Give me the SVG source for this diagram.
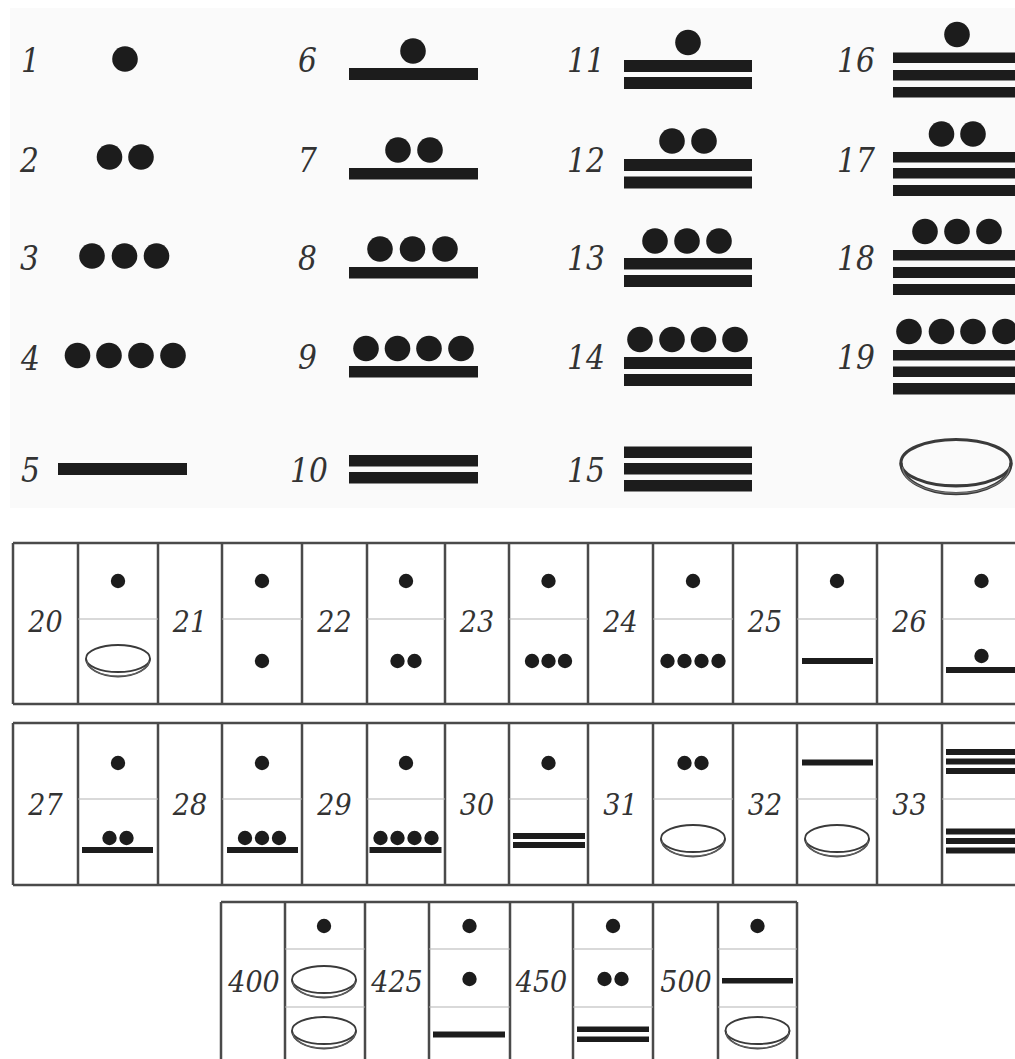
<svg xmlns="http://www.w3.org/2000/svg" xmlns:xlink="http://www.w3.org/1999/xlink" width="1015" height="1059" viewBox="0 0 1015 1059">
<style>
.lbl{font-family:"DejaVu Serif Condensed","DejaVu Serif",serif;font-style:italic;font-stretch:condensed;fill:#333}
.big{font-size:33px}
.sm{font-size:30px;text-anchor:middle}
.ink{fill:#1c1c1c}
.grid{stroke:#4a4a4a;stroke-width:2.5;fill:none}
.dv{stroke:#b4b4b4;stroke-width:1.2;fill:none}
</style>
<defs>
<g id="shell" fill="none" stroke="#3a3a3a" stroke-width="1.8">
<ellipse cx="0" cy="-2.5" rx="32" ry="13.5"/>
<path d="M-32,-2.5 A32,18 0 0 0 32,-2.5"/>
<path d="M-31,0 A31,15.2 0 0 0 31,0" stroke-width="0.7" stroke="#777"/>
</g>
</defs>
<rect x="0" y="0" width="1015" height="1059" fill="#ffffff"/>
<rect x="10" y="8" width="1005" height="500" fill="#fafafa"/>

<g id="n1"><text class="lbl big" x="21" y="72">1</text><circle class="ink" cx="125" cy="59" r="12.8"/></g>
<g id="n2"><text class="lbl big" x="20" y="172">2</text><circle class="ink" cx="109.5" cy="157" r="12.8"/><circle class="ink" cx="141" cy="157" r="12.8"/></g>
<g id="n3"><text class="lbl big" x="20" y="270">3</text><circle class="ink" cx="92" cy="256" r="12.8"/><circle class="ink" cx="124.5" cy="256" r="12.8"/><circle class="ink" cx="156.5" cy="256" r="12.8"/></g>
<g id="n4"><text class="lbl big" x="21" y="370">4</text><circle class="ink" cx="77.5" cy="355.5" r="12.8"/><circle class="ink" cx="109" cy="355.5" r="12.8"/><circle class="ink" cx="141" cy="355.5" r="12.8"/><circle class="ink" cx="173" cy="355.5" r="12.8"/></g>
<g id="n5"><text class="lbl big" x="21" y="482">5</text><rect class="ink" x="58" y="463" width="129" height="12"/></g>

<g id="n6"><text class="lbl big" x="298" y="72">6</text><circle class="ink" cx="413" cy="51" r="12.8"/><rect class="ink" x="349" y="68" width="129" height="12"/></g>
<g id="n7"><text class="lbl big" x="298" y="172">7</text><circle class="ink" cx="398" cy="150" r="12.8"/><circle class="ink" cx="430" cy="150" r="12.8"/><rect class="ink" x="349" y="168" width="129" height="11.5"/></g>
<g id="n8"><text class="lbl big" x="298" y="270">8</text><circle class="ink" cx="380" cy="249" r="12.8"/><circle class="ink" cx="412.5" cy="249" r="12.8"/><circle class="ink" cx="445" cy="249" r="12.8"/><rect class="ink" x="349" y="267" width="129" height="11.5"/></g>
<g id="n9"><text class="lbl big" x="298" y="369">9</text><circle class="ink" cx="366" cy="348.5" r="12.8"/><circle class="ink" cx="397.5" cy="348.5" r="12.8"/><circle class="ink" cx="429" cy="348.5" r="12.8"/><circle class="ink" cx="461" cy="348.5" r="12.8"/><rect class="ink" x="349" y="366" width="129" height="11.5"/></g>
<g id="n10"><text class="lbl big" x="290" y="482">10</text><rect class="ink" x="349" y="455" width="129" height="11.5"/><rect class="ink" x="349" y="472" width="129" height="11.5"/></g>

<g id="n11"><text class="lbl big" x="567" y="72">11</text><circle class="ink" cx="688" cy="42.5" r="12.8"/><rect class="ink" x="624" y="60" width="128" height="12"/><rect class="ink" x="624" y="77" width="128" height="12"/></g>
<g id="n12"><text class="lbl big" x="567" y="172">12</text><circle class="ink" cx="672" cy="141" r="12.8"/><circle class="ink" cx="704" cy="141" r="12.8"/><rect class="ink" x="624" y="159" width="128" height="12"/><rect class="ink" x="624" y="176.5" width="128" height="12"/></g>
<g id="n13"><text class="lbl big" x="567" y="270">13</text><circle class="ink" cx="655" cy="241" r="12.8"/><circle class="ink" cx="687" cy="241" r="12.8"/><circle class="ink" cx="719" cy="241" r="12.8"/><rect class="ink" x="624" y="258" width="128" height="11.5"/><rect class="ink" x="624" y="275" width="128" height="12"/></g>
<g id="n14"><text class="lbl big" x="567" y="369">14</text><circle class="ink" cx="640" cy="339.5" r="12.8"/><circle class="ink" cx="672" cy="339.5" r="12.8"/><circle class="ink" cx="703.5" cy="339.5" r="12.8"/><circle class="ink" cx="735" cy="339.5" r="12.8"/><rect class="ink" x="624" y="357" width="128" height="12"/><rect class="ink" x="624" y="374" width="128" height="12"/></g>
<g id="n15"><text class="lbl big" x="567" y="482">15</text><rect class="ink" x="624" y="446.5" width="128" height="11.5"/><rect class="ink" x="624" y="463" width="128" height="11.5"/><rect class="ink" x="624" y="480" width="128" height="11.5"/></g>

<g id="n16"><text class="lbl big" x="837" y="72">16</text><circle class="ink" cx="957" cy="34.5" r="12.8"/><rect class="ink" x="893" y="52.5" width="128" height="10.5"/><rect class="ink" x="893" y="70" width="128" height="10.5"/><rect class="ink" x="893" y="87" width="128" height="10.5"/></g>
<g id="n17"><text class="lbl big" x="837" y="172">17</text><circle class="ink" cx="941.5" cy="134" r="12.8"/><circle class="ink" cx="973" cy="134" r="12.8"/><rect class="ink" x="893" y="152" width="128" height="10.5"/><rect class="ink" x="893" y="168" width="128" height="10.5"/><rect class="ink" x="893" y="185" width="128" height="11"/></g>
<g id="n18"><text class="lbl big" x="837" y="270">18</text><circle class="ink" cx="925" cy="231.5" r="12.8"/><circle class="ink" cx="957" cy="231.5" r="12.8"/><circle class="ink" cx="989" cy="231.5" r="12.8"/><rect class="ink" x="893" y="250" width="128" height="10.5"/><rect class="ink" x="893" y="267" width="128" height="11"/><rect class="ink" x="893" y="284" width="128" height="11"/></g>
<g id="n19"><text class="lbl big" x="837" y="369">19</text><circle class="ink" cx="909" cy="331.5" r="12.8"/><circle class="ink" cx="941.5" cy="331.5" r="12.8"/><circle class="ink" cx="973" cy="331.5" r="12.8"/><circle class="ink" cx="1005" cy="331.5" r="12.8"/><rect class="ink" x="893" y="350" width="128" height="10.5"/><rect class="ink" x="893" y="366.5" width="128" height="10.5"/><rect class="ink" x="893" y="383" width="128" height="11.5"/></g>
<g id="n0"><use xlink:href="#shell" href="#shell" transform="translate(956,467) scale(1.72)"/></g>

<g id="table1-grid">
<path class="grid" d="M13,543 H1016 M13,704 H1016 M13,543 V704 M78,543 V704 M158,543 V704 M222,543 V704 M302,543 V704 M367,543 V704 M445,543 V704 M509,543 V704 M588,543 V704 M653,543 V704 M733,543 V704 M797,543 V704 M877,543 V704 M942,543 V704"/>
<path class="dv" d="M78,619 H158 M222,619 H302 M367,619 H445 M509,619 H588 M653,619 H733 M797,619 H877 M942,619 H1016"/>
</g>
<g id="n20"><text class="lbl sm" x="45.5" y="632">20</text><circle class="ink" cx="118" cy="581" r="7.2"/><use xlink:href="#shell" href="#shell" transform="translate(118,661)"/></g>
<g id="n21"><text class="lbl sm" x="190" y="632">21</text><circle class="ink" cx="262" cy="581" r="7.2"/><circle class="ink" cx="262" cy="661" r="7.2"/></g>
<g id="n22"><text class="lbl sm" x="334.5" y="632">22</text><circle class="ink" cx="406" cy="581" r="7.2"/><circle class="ink" cx="397.5" cy="661" r="7.2"/><circle class="ink" cx="414.5" cy="661" r="7.2"/></g>
<g id="n23"><text class="lbl sm" x="477" y="632">23</text><circle class="ink" cx="548.5" cy="581" r="7.2"/><circle class="ink" cx="532" cy="661" r="7.2"/><circle class="ink" cx="548.5" cy="661" r="7.2"/><circle class="ink" cx="565" cy="661" r="7.2"/></g>
<g id="n24"><text class="lbl sm" x="620.5" y="632">24</text><circle class="ink" cx="693" cy="581" r="7.2"/><circle class="ink" cx="667.5" cy="661" r="7.2"/><circle class="ink" cx="684.5" cy="661" r="7.2"/><circle class="ink" cx="701.5" cy="661" r="7.2"/><circle class="ink" cx="718.5" cy="661" r="7.2"/></g>
<g id="n25"><text class="lbl sm" x="765" y="632">25</text><circle class="ink" cx="837" cy="581" r="7.2"/><rect class="ink" x="802" y="658" width="71" height="6"/></g>
<g id="n26"><text class="lbl sm" x="909.5" y="632">26</text><circle class="ink" cx="981.5" cy="581" r="7.2"/><circle class="ink" cx="981.5" cy="656" r="7.2"/><rect class="ink" x="946" y="667" width="71" height="6"/></g>

<g id="table2-grid">
<path class="grid" d="M13,723 H1016 M13,885 H1016 M13,723 V885 M78,723 V885 M158,723 V885 M222,723 V885 M302,723 V885 M367,723 V885 M445,723 V885 M509,723 V885 M588,723 V885 M653,723 V885 M733,723 V885 M797,723 V885 M877,723 V885 M942,723 V885"/>
<path class="dv" d="M78,799 H158 M222,799 H302 M367,799 H445 M509,799 H588 M653,799 H733 M797,799 H877 M942,799 H1016"/>
</g>
<g id="n27"><text class="lbl sm" x="45.5" y="815">27</text><circle class="ink" cx="118" cy="763" r="7.2"/><circle class="ink" cx="109.5" cy="838" r="7.2"/><circle class="ink" cx="126.5" cy="838" r="7.2"/><rect class="ink" x="82" y="847" width="71" height="6"/></g>
<g id="n28"><text class="lbl sm" x="190" y="815">28</text><circle class="ink" cx="262" cy="763" r="7.2"/><circle class="ink" cx="245" cy="838" r="7.2"/><circle class="ink" cx="262" cy="838" r="7.2"/><circle class="ink" cx="279" cy="838" r="7.2"/><rect class="ink" x="227" y="847" width="71" height="6"/></g>
<g id="n29"><text class="lbl sm" x="334.5" y="815">29</text><circle class="ink" cx="406" cy="763" r="7.2"/><circle class="ink" cx="380.5" cy="838" r="7.2"/><circle class="ink" cx="397.5" cy="838" r="7.2"/><circle class="ink" cx="414.5" cy="838" r="7.2"/><circle class="ink" cx="431.5" cy="838" r="7.2"/><rect class="ink" x="369.5" y="847" width="72" height="6"/></g>
<g id="n30"><text class="lbl sm" x="477" y="815">30</text><circle class="ink" cx="548.5" cy="763" r="7.2"/><rect class="ink" x="513" y="833" width="72" height="6"/><rect class="ink" x="513" y="842" width="72" height="6"/></g>
<g id="n31"><text class="lbl sm" x="620.5" y="815">31</text><circle class="ink" cx="684.5" cy="763" r="7.2"/><circle class="ink" cx="701.5" cy="763" r="7.2"/><use xlink:href="#shell" href="#shell" transform="translate(693,841)"/></g>
<g id="n32"><text class="lbl sm" x="765" y="815">32</text><rect class="ink" x="802" y="759.5" width="71" height="6"/><use xlink:href="#shell" href="#shell" transform="translate(837,841)"/></g>
<g id="n33"><text class="lbl sm" x="909.5" y="815">33</text><rect class="ink" x="946" y="749" width="71" height="6"/><rect class="ink" x="946" y="758.5" width="71" height="6"/><rect class="ink" x="946" y="768" width="71" height="6"/><rect class="ink" x="946" y="828.5" width="71" height="6"/><rect class="ink" x="946" y="838" width="71" height="6"/><rect class="ink" x="946" y="847.5" width="71" height="6"/></g>

<g id="table3-grid">
<path class="grid" d="M221,902 H797 M221,902 V1060 M285,902 V1060 M365,902 V1060 M429,902 V1060 M510,902 V1060 M573,902 V1060 M653,902 V1060 M718,902 V1060 M797,902 V1060"/>
<path class="dv" d="M285,949 H365 M429,949 H510 M573,949 H653 M718,949 H797 M285,1007 H365 M429,1007 H510 M573,1007 H653 M718,1007 H797"/>
</g>
<g id="n400"><text class="lbl sm" x="254" y="992">400</text><circle class="ink" cx="324" cy="926" r="7.2"/><use xlink:href="#shell" href="#shell" transform="translate(324,982)"/><use xlink:href="#shell" href="#shell" transform="translate(324,1033)"/></g>
<g id="n425"><text class="lbl sm" x="397" y="992">425</text><circle class="ink" cx="469.5" cy="926" r="7.2"/><circle class="ink" cx="469.5" cy="979" r="7.2"/><rect class="ink" x="433" y="1031.5" width="72" height="6"/></g>
<g id="n450"><text class="lbl sm" x="541.5" y="992">450</text><circle class="ink" cx="613" cy="926" r="7.2"/><circle class="ink" cx="604.5" cy="979" r="7.2"/><circle class="ink" cx="621.5" cy="979" r="7.2"/><rect class="ink" x="577" y="1026.5" width="72" height="5.5"/><rect class="ink" x="577" y="1036.5" width="72" height="5.5"/></g>
<g id="n500"><text class="lbl sm" x="686" y="992">500</text><circle class="ink" cx="757.5" cy="926" r="7.2"/><rect class="ink" x="722" y="978" width="71" height="5.5"/><use xlink:href="#shell" href="#shell" transform="translate(757.5,1033)"/></g>
</svg>
